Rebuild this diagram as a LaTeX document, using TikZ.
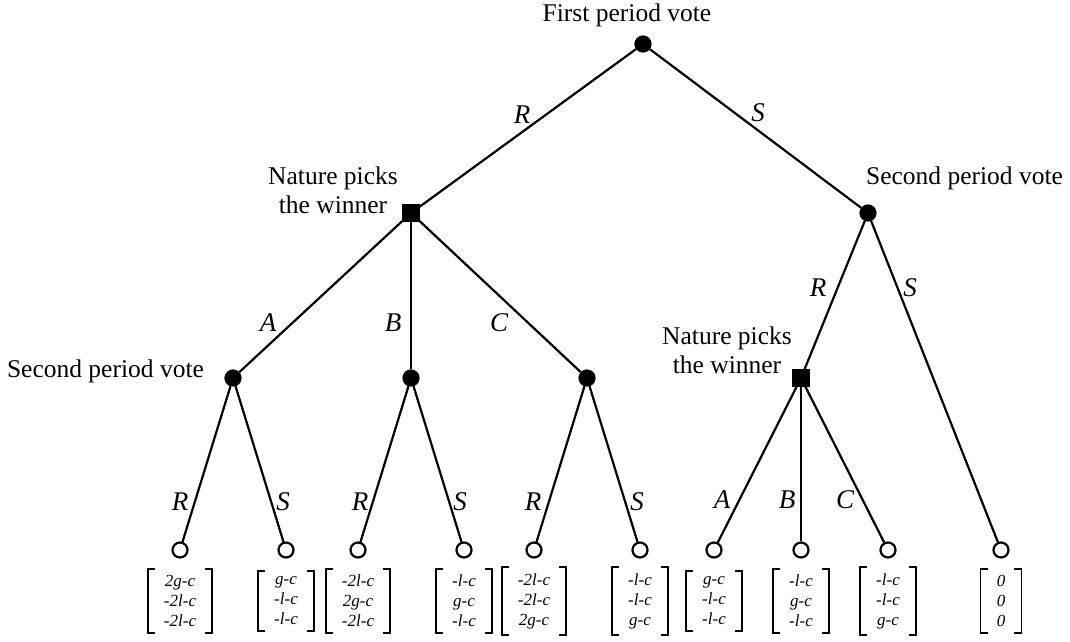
\documentclass[tikz,border=0pt]{standalone}
\usepackage{fontspec}
\setmainfont{Liberation Serif}
\usetikzlibrary{positioning}

\tikzset{
  vote/.style={circle, fill=black, draw=black, minimum size=15pt, inner sep=0pt},
  nature/.style={rectangle, fill=black, draw=black, minimum size=15pt, inner sep=0pt},
  leaf/.style={circle, draw=black, fill=white, line width=2.2pt, minimum size=15pt, inner sep=0pt},
  txt/.style={inner sep=0pt, font=\fontsize{25.5}{29}\selectfont, align=center},
  act/.style={inner sep=0pt, font=\fontsize{27}{30}\selectfont\itshape},
  payoff/.style={inner xsep=15pt, inner ysep=5pt, align=center,
    font=\fontsize{17}{20}\selectfont\itshape}
}

\begin{document}
\begin{tikzpicture}[x=1pt, y=-1pt, line width=2.2pt]
  \useasboundingbox (0,0) rectangle (1070,641);

  \node (root) [vote] at (643, 44) {};
  \node (nat1) [nature] at (411, 213) {};
  \node (v2) [vote] at (868, 213) {};

    \node (va) [vote] at (233, 378) {};
    \node (vb) [vote] at (411, 378) {};
    \node (vc) [vote] at (587, 378) {};
    \node (nat2) [nature] at (801, 378) {};

  % labels of the decision points
  \node (troot) [txt] at (627, 15) {First period vote};
  \node (tnat1) [txt] at (333, 190) {Nature picks\\the winner};
  \node (tv2) [txt, anchor=west] at (865, 178) {Second period vote};
  \node (tva) [txt, anchor=east] at (205, 371) {Second period vote};
  \node (tnat2) [txt] at (727, 350) {Nature picks\\the winner};

  % leaves and payoffs
  \foreach \n/\x/\pay in {1/180/{2g-c\\-2l-c\\-2l-c}, 2/286/{g-c\\-l-c\\-l-c},
      3/358/{-2l-c\\2g-c\\-2l-c}, 4/464/{-l-c\\g-c\\-l-c},
      5/534/{-2l-c\\-2l-c\\2g-c}, 6/640/{-l-c\\-l-c\\g-c},
      7/714/{g-c\\-l-c\\-l-c}, 8/801/{-l-c\\g-c\\-l-c},
      9/888/{-l-c\\-l-c\\g-c}, 10/1001/{0\\0\\0}} {
    \node (l\n) [leaf] at (\x, 550) {};
    \node (p\n) [payoff] at (\x, 601) {\pay};
    \draw[line width=1.6pt] ([xshift=7pt]p\n.north west) -| (p\n.south west) -- ++(7,0);
    \draw[line width=1.6pt] ([xshift=-7pt]p\n.north east) -| (p\n.south east) -- ++(-7,0);
  }

  % actions
  \node (aR) [act] at (522, 115) {R};
  \node (aS) [act] at (758, 113) {S};
  \node (aA) [act] at (268, 323) {A};
  \node (aB) [act] at (393, 323) {B};
  \node (aC) [act] at (499, 323) {C};
  \node (aR2) [act] at (818, 288) {R};
  \node (aS2) [act] at (910, 288) {S};
  \node (aRa) [act] at (180, 502) {R};
  \node (aSa) [act] at (283, 502) {S};
  \node (aRb) [act] at (360, 502) {R};
  \node (aSb) [act] at (460, 502) {S};
  \node (aRc) [act] at (533, 502) {R};
  \node (aSc) [act] at (637, 502) {S};
  \node (aA2) [act] at (722, 500) {A};
  \node (aB2) [act] at (787, 500) {B};
  \node (aC2) [act] at (845, 500) {C};

  \draw (root) -- (nat1); \draw (root) -- (v2);
  \draw (nat1) -- (va); \draw (nat1) -- (vb); \draw (nat1) -- (vc);
  \draw (v2) -- (nat2); \draw (v2) -- (l10);
  \draw (va) -- (l1); \draw (va) -- (l2);
  \draw (vb) -- (l3); \draw (vb) -- (l4);
  \draw (vc) -- (l5); \draw (vc) -- (l6);
  \draw (nat2) -- (l7); \draw (nat2) -- (l8); \draw (nat2) -- (l9);
\end{tikzpicture}
\end{document}
